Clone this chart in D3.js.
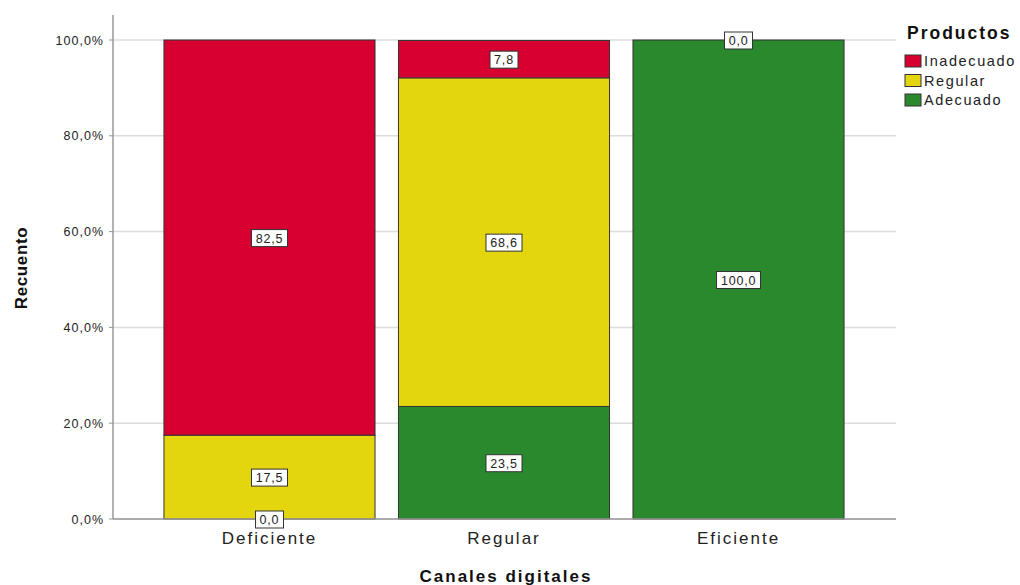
<!DOCTYPE html>
<html>
<head>
<meta charset="utf-8">
<script src="https://cdn.jsdelivr.net/npm/d3@7/dist/d3.min.js"></script>
<style>
  html, body { margin: 0; padding: 0; background: #fff; }
  svg { display: block; font-family: "Liberation Sans", Arial, sans-serif; }
</style>
</head>
<body>
<svg id="chart" width="1020" height="585"></svg>
<script>
// Categories on the x axis
const categories = ["Deficiente", "Regular", "Eficiente"];
// Stacked series, bottom to top (percent of each column)
const seriesNames = ["Adecuado", "Regular", "Inadecuado"];
const adecuado   = [0.0, 23.5, 100.0];
const regular    = [17.5, 68.6, null];
const inadecuado = [82.5, 7.8, 0.0];
const yTicks = [0, 20, 40, 60, 80, 100];
// Legend order (top to bottom)
const legendOrder = ["Inadecuado", "Regular", "Adecuado"];

const colors = { Adecuado: "#2a892c", Regular: "#e3d60f", Inadecuado: "#d60031" };
const seriesValues = { Adecuado: adecuado, Regular: regular, Inadecuado: inadecuado };

const svg = d3.select("#chart");
const plot = { left: 113, right: 896, top: 15, bottom: 519 };

const y = d3.scaleLinear().domain([0, 100]).range([519, 40]);
const x = d3.scaleBand().domain(categories).range([140.5, 867.5]).padding(0.1);

// Gridlines
svg.append("g").selectAll("line").data(yTicks).join("line")
  .attr("x1", plot.left).attr("x2", plot.right)
  .attr("y1", d => y(d)).attr("y2", d => y(d))
  .attr("stroke", "#dcdcdc").attr("stroke-width", 1.5);

// Stack the data
const rows = categories.map((c, i) => {
  const r = { cat: c };
  seriesNames.forEach(s => { r[s] = seriesValues[s][i] == null ? 0 : seriesValues[s][i]; });
  return r;
});
const stacked = d3.stack().keys(seriesNames)(rows);

const barG = svg.append("g");
stacked.forEach(layer => {
  barG.append("g").selectAll("rect").data(layer.filter(d => d[1] - d[0] > 0)).join("rect")
    .attr("x", d => x(d.data.cat))
    .attr("width", x.bandwidth())
    .attr("y", d => y(d[1]))
    .attr("height", d => y(d[0]) - y(d[1]))
    .attr("fill", colors[layer.key])
    .attr("stroke", "#333")
    .attr("stroke-width", 1);
});

// Axes
svg.append("line").attr("x1", plot.left).attr("x2", plot.left)
  .attr("y1", plot.top).attr("y2", plot.bottom)
  .attr("stroke", "#999").attr("stroke-width", 1.5);
svg.append("line").attr("x1", plot.left).attr("x2", plot.right)
  .attr("y1", plot.bottom).attr("y2", plot.bottom)
  .attr("stroke", "#999").attr("stroke-width", 1.5);

// Y tick marks and labels
const fmt = v => d3.format(".1f")(v).replace(".", ",");
const yAxisG = svg.append("g");
yTicks.forEach(t => {
  yAxisG.append("line").attr("x1", plot.left - 4).attr("x2", plot.left)
    .attr("y1", y(t)).attr("y2", y(t)).attr("stroke", "#999");
  yAxisG.append("text").attr("x", plot.left - 9).attr("y", y(t) + 4.5)
    .attr("text-anchor", "end").attr("font-size", 12.5).attr("fill", "#222")
    .attr("letter-spacing", 1)
    .text(fmt(t) + "%");
});

// X tick labels
categories.forEach(c => {
  svg.append("text").attr("x", x(c) + x.bandwidth() / 2).attr("y", 544)
    .attr("text-anchor", "middle").attr("font-size", 17).attr("fill", "#222")
    .attr("letter-spacing", 2)
    .text(c);
});

// Axis titles
svg.append("text").attr("x", 506).attr("y", 582).attr("text-anchor", "middle")
  .attr("font-size", 17).attr("font-weight", "bold").attr("fill", "#111")
  .attr("letter-spacing", 2)
  .text("Canales digitales");
svg.append("text").attr("transform", "translate(27,268) rotate(-90)")
  .attr("text-anchor", "middle").attr("font-size", 17).attr("font-weight", "bold")
  .attr("fill", "#111").attr("letter-spacing", 0.6).text("Recuento");

// Value labels on segments
const labelG = svg.append("g");
stacked.forEach(layer => {
  layer.forEach((d, i) => {
    const v = seriesValues[layer.key][i];
    if (v == null) return;
    const cx = x(d.data.cat) + x.bandwidth() / 2;
    const cy = y((d[0] + d[1]) / 2);
    const t = fmt(v);
    const w = t.length * 8 + 4;
    labelG.append("rect").attr("x", cx - w / 2).attr("y", cy - 8)
      .attr("width", w).attr("height", 17)
      .attr("fill", "#fff").attr("stroke", "#333").attr("stroke-width", 1);
    labelG.append("text").attr("x", cx).attr("y", cy + 5)
      .attr("text-anchor", "middle").attr("font-size", 12.5).attr("fill", "#222")
      .attr("letter-spacing", 0.8)
      .text(t);
  });
});

// Legend
const lg = svg.append("g");
lg.append("text").attr("x", 907).attr("y", 39).attr("font-size", 17.5)
  .attr("font-weight", "bold").attr("fill", "#111").attr("letter-spacing", 2)
  .text("Productos");
legendOrder.forEach((s, i) => {
  const yy = 55 + i * 19.5;
  lg.append("rect").attr("x", 905).attr("y", yy).attr("width", 16).attr("height", 12)
    .attr("fill", colors[s]).attr("stroke", "#333").attr("stroke-width", 1);
  lg.append("text").attr("x", 924).attr("y", yy + 11).attr("font-size", 14.5)
    .attr("fill", "#222").attr("letter-spacing", 1.6).text(s);
});
</script>
</body>
</html>
